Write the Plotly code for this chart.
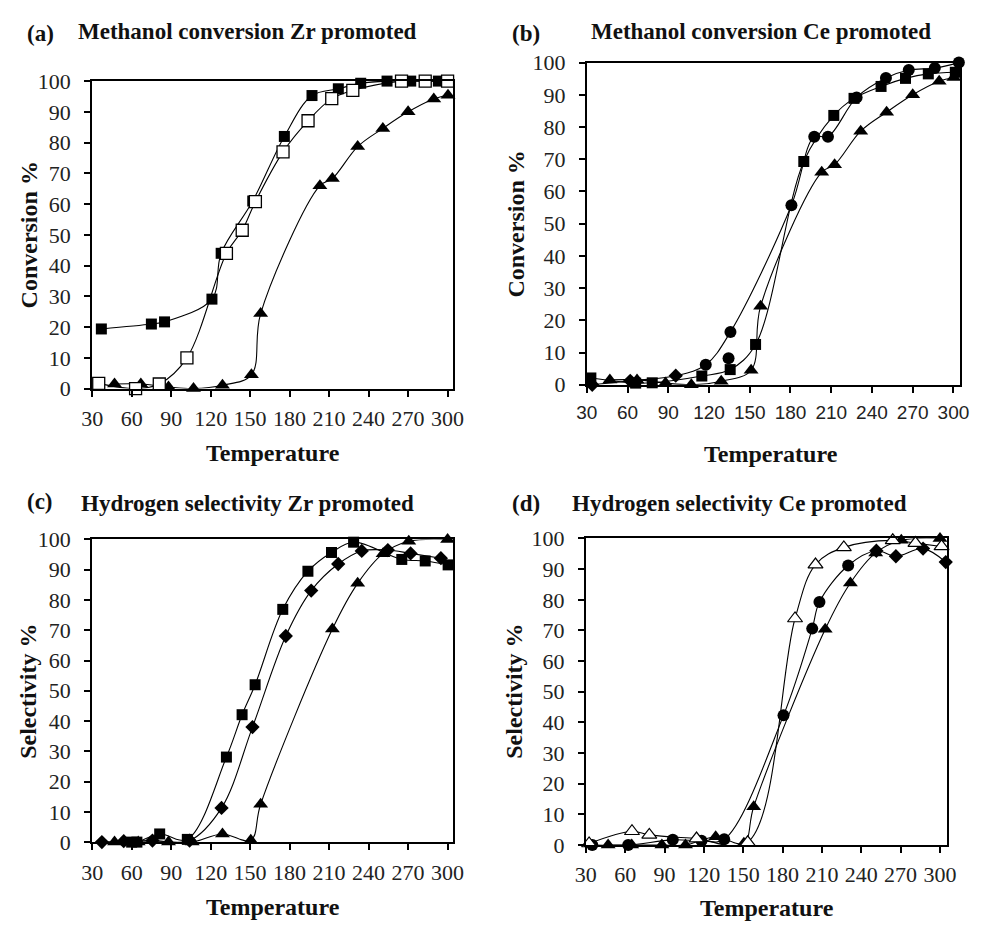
import plotly.graph_objects as go

W, H = 981, 932

# ---------------- data ----------------
# (a) Methanol conversion, Zr promoted
a_fsq_T = [37, 75, 85, 121, 128, 152, 176, 197, 217, 234, 254, 272, 293]
a_fsq_Y = [19.4, 21, 21.7, 29.1, 44, 61, 82, 95.3, 97.5, 99.3, 100, 100, 100]
a_osq_T = [35, 63, 81, 102, 132, 144, 154, 175, 194, 212, 228, 265, 283, 300]
a_osq_Y = [1.7, 0, 1.5, 10, 44, 51.5, 60.8, 77, 87.1, 94.3, 97, 100, 100, 100]
# reference catalyst conversion (panels a and b)
conv_tri_T = [47, 67, 88, 107, 129, 151, 158, 203, 212.5, 231.7, 250.8, 270, 289.5, 300.3]
conv_tri_Y = [1.5, 1.5, 0.5, 0, 1.1, 4.5, 24.4, 66, 68.3, 78.7, 84.6, 90, 94.2, 95.4]

# (b) Methanol conversion, Ce promoted
b_dia_T = [34, 62, 95.5]
b_dia_Y = [0, 1.2, 2.8]
b_cir_T = [117.6, 135.8, 180.7, 197.5, 207.6, 228.7, 250.3, 267.1, 286.3, 304]
b_cir_Y = [6.2, 16.4, 55.7, 77, 77, 89.2, 95.2, 97.7, 98.3, 100]
b_cir2_T = [134.4]
b_cir2_Y = [8.2]
b_sq_T = [33, 66, 78.2, 114.7, 135.6, 154.3, 189.8, 211.9, 226.8, 246.7, 264.7, 281.5, 301.4]
b_sq_Y = [2.1, 0.5, 0.6, 2.7, 4.7, 12.5, 69.3, 83.6, 88.9, 92.6, 95.1, 96.5, 97]

# (c) Hydrogen selectivity, Zr promoted
c_sq_T = [60, 64, 81.3, 102.3, 132, 143.9, 153.8, 174.8, 193.9, 211.8, 228.6, 265.2, 283, 300.4]
c_sq_Y = [0, 0, 2.7, 0.9, 28.1, 42.1, 52, 76.9, 89.5, 95.7, 99.1, 93.4, 92.9, 91.6]
c_dia_T = [37.4, 54, 75.8, 104, 128.3, 151.8, 177.1, 196.4, 216.9, 234.8, 254.6, 271.9, 294.9]
c_dia_Y = [0, 0.3, 0.5, 0.5, 11.3, 38, 68.1, 83.1, 91.9, 96.2, 96.5, 95.4, 93.8]
# reference catalyst selectivity (panels c and d)
sel_tri_T = [47, 65, 88, 106, 129, 150.5, 158, 212.5, 231.7, 251, 270.5, 300]
sel_tri_Y = [0, 0, 0, 0, 2.7, 0.6, 12.5, 70.4, 85.5, 95.3, 99.4, 100]

# (d) Hydrogen selectivity, Ce promoted
d_otri_T = [32.5, 65.2, 78.4, 114.4, 153.4, 189.5, 205.1, 226.7, 264, 281.3, 301.2]
d_otri_Y = [0.5, 4.5, 3.3, 2.1, 0.9, 73.9, 91.5, 97.1, 99.4, 98.5, 97.4]
d_cir_T = [34.9, 62.3, 96.3, 118.2, 135.5, 180.7, 202.6, 208.1, 230]
d_cir_Y = [0, 0, 1.7, 1.4, 1.9, 42.3, 70.6, 79.3, 91.2]
d_dia_T = [251.5, 266.4, 287.1, 304.4]
d_dia_Y = [96, 94.2, 96.7, 92.3]

x_ticks = [30, 60, 90, 120, 150, 180, 210, 240, 270, 300]
y_ticks = [0, 10, 20, 30, 40, 50, 60, 70, 80, 90, 100]

# ---------------- layout helpers ----------------
SERIF = "Liberation Serif, Times New Roman, serif"
SANS = "Liberation Sans, Arial, sans-serif"


def px_x(x):
    return x / W


def px_y(y):
    return 1 - y / H


# plot-area boxes in pixels: left, right, top, bottom, xmax
boxes = {
    1: (83, 452, 71, 387, 304),
    2: (589, 971, 52, 383, 305),
    3: (83, 452, 542, 853, 304),
    4: (588, 957, 541, 856, 305),
}

fig = go.Figure()

SYM = {
    "fsq": dict(symbol="square", color="black", size=11, line=dict(width=0)),
    "osq": dict(symbol="square", color="white", size=12, line=dict(color="black", width=1.3)),
    "tri": dict(symbol="triangle-up", color="black", size=13, line=dict(width=0)),
    "otri": dict(symbol="triangle-up", color="white", size=13, line=dict(color="black", width=1.2)),
    "cir": dict(symbol="circle", color="black", size=12, line=dict(width=0)),
    "dia": dict(symbol="diamond", color="black", size=11, line=dict(width=0)),
}


def line(ax, T, Y):
    fig.add_trace(go.Scatter(
        x=T, y=Y, mode="lines", xaxis="x" + ax, yaxis="y" + ax,
        line=dict(color="black", width=1.1, shape="spline", smoothing=1.0),
        showlegend=False, hoverinfo="skip"))


def marks(ax, T, Y, kind):
    fig.add_trace(go.Scatter(
        x=T, y=Y, mode="markers", xaxis="x" + ax, yaxis="y" + ax,
        marker=SYM[kind], cliponaxis=False, showlegend=False))


# panel a
line("", a_fsq_T, a_fsq_Y)
line("", a_osq_T, a_osq_Y)
line("", conv_tri_T, conv_tri_Y)
marks("", conv_tri_T, conv_tri_Y, "tri")
marks("", a_fsq_T, a_fsq_Y, "fsq")
marks("", a_osq_T, a_osq_Y, "osq")

# panel b
line("2", b_dia_T + b_cir_T, b_dia_Y + b_cir_Y)
line("2", b_sq_T, b_sq_Y)
line("2", conv_tri_T, conv_tri_Y)
marks("2", conv_tri_T, conv_tri_Y, "tri")
marks("2", b_sq_T, b_sq_Y, "fsq")
marks("2", b_dia_T, b_dia_Y, "dia")
marks("2", b_cir_T, b_cir_Y, "cir")
marks("2", b_cir2_T, b_cir2_Y, "cir")

# panel c
line("3", c_sq_T, c_sq_Y)
line("3", c_dia_T, c_dia_Y)
line("3", sel_tri_T, sel_tri_Y)
marks("3", sel_tri_T, sel_tri_Y, "tri")
marks("3", c_dia_T, c_dia_Y, "dia")
marks("3", c_sq_T, c_sq_Y, "fsq")

# panel d
line("4", d_otri_T, d_otri_Y)
line("4", d_cir_T + d_dia_T, d_cir_Y + d_dia_Y)
line("4", sel_tri_T, sel_tri_Y)
marks("4", sel_tri_T, sel_tri_Y, "tri")
marks("4", d_cir_T, d_cir_Y, "cir")
marks("4", d_dia_T, d_dia_Y, "dia")
marks("4", d_otri_T, d_otri_Y, "otri")

layout = dict(
    width=W, height=H, margin=dict(l=0, r=0, t=0, b=0),
    paper_bgcolor="white", plot_bgcolor="white", showlegend=False,
)

for i, (l, r, t, b, xmax) in boxes.items():
    sx = "" if i == 1 else str(i)
    xfont = dict(family=SANS if i == 2 else SERIF, size=19 if i == 2 else 22, color="#222")
    layout["xaxis" + sx] = dict(
        domain=[px_x(l), px_x(r)], range=[30, xmax], anchor="y" + sx,
        tickvals=x_ticks, ticks="outside", ticklen=6, tickwidth=1.5, tickcolor="black",
        showline=True, linewidth=2, linecolor="black", mirror=True,
        showgrid=False, zeroline=False, tickfont=xfont, ticklabelstandoff=3,
    )
    layout["yaxis" + sx] = dict(
        domain=[px_y(b), px_y(t)], range=[0, 100], anchor="x" + sx,
        tickvals=y_ticks, ticks="outside", ticklen=6, tickwidth=1.5, tickcolor="black",
        showline=True, linewidth=2, linecolor="black", mirror=True,
        showgrid=False, zeroline=False,
        tickfont=dict(family=SERIF, size=22, color="#222"), ticklabelstandoff=9,
    )

fig.update_layout(**layout)

ann = []


def text(x, y, s, size, angle=0, xanchor="center"):
    ann.append(dict(x=px_x(x), y=px_y(y), xref="paper", yref="paper", text=s,
                    showarrow=False, xanchor=xanchor, yanchor="middle", textangle=angle,
                    font=dict(family=SERIF, size=size, color="#111")))


# panel labels and titles
text(14, 22, "<b>(a)</b>", 23, xanchor="left")
text(242, 20, "<b>Methanol conversion Zr promoted</b>", 23)
text(510, 22, "<b>(b)</b>", 23, xanchor="left")
text(767, 20, "<b>Methanol conversion Ce promoted</b>", 23)
text(14, 503, "<b>(c)</b>", 23, xanchor="left")
text(242, 505, "<b>Hydrogen selectivity Zr promoted</b>", 23)
text(510, 505, "<b>(d)</b>", 23, xanchor="left")
text(745, 505, "<b>Hydrogen selectivity Ce promoted</b>", 23)

# axis titles
text(268, 453, "<b>Temperature</b>", 24)
text(777, 454, "<b>Temperature</b>", 24)
text(268, 920, "<b>Temperature</b>", 24)
text(773, 921, "<b>Temperature</b>", 24)
text(18, 229, "<b>Conversion %</b>", 24, angle=-90)
text(517, 218, "<b>Conversion %</b>", 24, angle=-90)
text(18, 698, "<b>Selectivity %</b>", 24, angle=-90)
text(515, 698, "<b>Selectivity %</b>", 24, angle=-90)

fig.update_layout(annotations=ann)
fig.write_html("out.html")
